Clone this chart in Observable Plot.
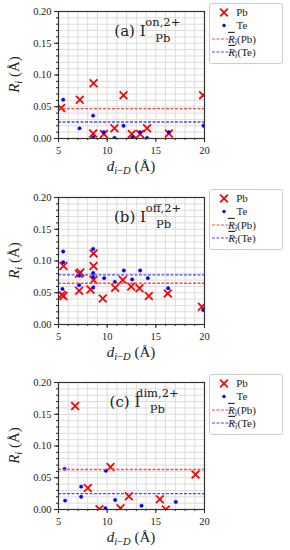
<!DOCTYPE html>
<html><head><meta charset="utf-8">
<script src="https://cdn.jsdelivr.net/npm/d3@7"></script>
<script src="https://cdn.jsdelivr.net/npm/@observablehq/plot@0.6"></script>
<style>body{margin:0;background:#fff;} svg{display:block}</style>
</head><body><div id="chart"></div>
<script>
// ---- tick values ----
const xTicks = [5, 10, 15, 20];
const xMinor = d3.range(5, 21);
const yTicks = [0, 0.05, 0.10, 0.15, 0.20];
const yMinor = d3.range(0, 21).map(i => i / 100);

// ---- panel (a) ----
const aPbX = [5.27, 7.19, 8.60, 8.56, 9.66, 10.75, 11.68, 12.53, 13.39, 14.10, 16.34, 19.85];
const aPbY = [0.048, 0.061, 0.087, 0.008, 0.007, 0.016, 0.068, 0.007, 0.007, 0.016, 0.008, 0.068];
const aTeX = [5.48, 7.16, 8.56, 8.56, 9.66, 10.75, 11.68, 12.60, 13.39, 14.10, 16.34, 19.90];
const aTeY = [0.061, 0.016, 0.036, 0.002, 0.010, 0.001, 0.020, 0.002, 0.010, 0.001, 0.010, 0.020];
const aPbMean = 0.047, aTeMean = 0.026;

// ---- panel (b) ----
const bPbX = [5.34, 5.51, 5.51, 7.12, 7.10, 7.25, 8.29, 8.60, 8.60, 8.60, 9.55, 10.82, 11.60, 12.47, 13.32, 14.28, 16.23, 19.73];
const bPbY = [0.047, 0.045, 0.092, 0.053, 0.080, 0.082, 0.055, 0.112, 0.092, 0.070, 0.041, 0.058, 0.070, 0.060, 0.057, 0.045, 0.049, 0.028];
const bTeX = [5.48, 5.48, 5.41, 7.12, 7.12, 8.56, 8.56, 8.56, 8.56, 9.69, 10.79, 11.71, 12.57, 13.39, 14.18, 16.27, 19.86];
const bTeY = [0.115, 0.098, 0.056, 0.062, 0.077, 0.119, 0.081, 0.075, 0.058, 0.073, 0.067, 0.085, 0.071, 0.085, 0.073, 0.057, 0.023];
const bPbMean = 0.065, bTeMean = 0.078;

// ---- panel (c) ----
const cPbX = [6.71, 8.01, 9.21, 10.34, 11.37, 12.23, 15.41, 16.03, 19.08];
const cPbY = [0.163, 0.034, 0.0005, 0.067, 0.002, 0.021, 0.016, 0.0, 0.055];
const cTeX = [5.62, 5.68, 7.33, 7.33, 9.86, 9.83, 10.82, 13.53, 17.05];
const cTeY = [0.064, 0.014, 0.036, 0.020, 0.061, 0.002, 0.015, 0.006, 0.012];
const cPbMean = 0.063, cTeMean = 0.025;

const panelIds = ["a", "b", "c"];
const panelSups = ["on,2+", "off,2+", "dim,2+"];
const legendLabels = ["Pb", "Te", "(Pb)", "(Te)"];

const pbColor = "#ff0000", teColor = "#0000ff";
const pbMeanColor = "#ff4a4a", teMeanColor = "#4a4aff";
const serif = "'Liberation Serif', 'DejaVu Serif', serif";
const titleSerif = "'DejaVu Serif', 'Liberation Serif', serif";

const panels = [
  {id: panelIds[0], sup: panelSups[0], pbX: aPbX, pbY: aPbY, teX: aTeX, teY: aTeY, pbMean: aPbMean, teMean: aTeMean, height: 185, mt: 11, tx: 130},
  {id: panelIds[1], sup: panelSups[1], pbX: bPbX, pbY: bPbY, teX: bTeX, teY: bTeY, pbMean: bPbMean, teMean: bTeMean, height: 185, mt: 12, tx: 130},
  {id: panelIds[2], sup: panelSups[2], pbX: cPbX, pbY: cPbY, teX: cTeX, teY: cTeY, pbMean: cPbMean, teMean: cTeMean, height: 180, mt: 12, tx: 125}
];

const plotH = 127;

function toRows(xs, ys) { return xs.map((x, i) => ({x, y: ys[i]})); }

function drawPanel(p) {
  const mb = p.height - p.mt - plotH;
  const pb = toRows(p.pbX, p.pbY);
  const te = toRows(p.teX, p.teY);
  const svg = Plot.plot({
    width: 290, height: p.height,
    marginLeft: 58, marginRight: 86, marginTop: p.mt, marginBottom: mb,
    style: {fontFamily: serif, fontSize: "10.5px", color: "#222", background: "#fff"},
    x: {domain: [5, 20]},
    y: {domain: [0, 0.2]},
    marks: [
      Plot.gridX(xMinor, {stroke: "#dcdcdc", strokeOpacity: 1}),
      Plot.gridY(yMinor, {stroke: "#dcdcdc", strokeOpacity: 1}),
      Plot.dot(pb, {x: "x", y: "y", symbol: "times", r: 3.6, stroke: pbColor, strokeWidth: 1.8, clip: true}),
      Plot.dot(te, {x: "x", y: "y", r: 1.7, fill: teColor, stroke: teColor, strokeWidth: 0.5, clip: true}),
      Plot.ruleY([p.pbMean], {stroke: pbMeanColor, strokeWidth: 1.3, strokeDasharray: "3,1.5"}),
      Plot.ruleY([p.teMean], {stroke: teMeanColor, strokeWidth: 1.3, strokeDasharray: "3,1.5"}),
      Plot.axisY(yMinor, {tickSize: 2, tickFormat: () => "", label: null}),
      Plot.axisY(yTicks, {tickSize: 4, tickPadding: 3, tickFormat: d3.format(".2f"), label: null}),
      Plot.axisX(xMinor, {tickSize: 2, tickFormat: () => "", label: null}),
      Plot.axisX(xTicks, {tickSize: 4, tickPadding: 4, label: null}),
      Plot.frame({stroke: "#333", strokeWidth: 1.2})
    ]
  });
  document.getElementById("chart").append(svg);

  const s = d3.select(svg);
  const top = p.mt, bottom = p.mt + plotH;
  const cx = (58 + 204) / 2, cy = (top + bottom) / 2;

  // y label
  const yl = s.append("text").attr("transform", `translate(19,${cy}) rotate(-90)`)
    .attr("text-anchor", "middle").attr("font-family", serif).attr("font-size", 15).attr("fill", "#222");
  yl.append("tspan").attr("font-style", "italic").text("R");
  yl.append("tspan").attr("font-style", "italic").attr("font-size", 10.5).attr("dy", 3).text("i");
  yl.append("tspan").attr("dy", -3).text(" (Å)");

  // x label
  const xl = s.append("text").attr("x", cx).attr("y", bottom + 33)
    .attr("text-anchor", "middle").attr("font-family", serif).attr("font-size", 15).attr("fill", "#222");
  xl.append("tspan").attr("font-style", "italic").text("d");
  xl.append("tspan").attr("font-style", "italic").attr("font-size", 10.5).attr("dy", 3).text("i");
  xl.append("tspan").attr("font-size", 10.5).text("−");
  xl.append("tspan").attr("font-style", "italic").attr("font-size", 10.5).text("D");
  xl.append("tspan").attr("dy", -3).text(" (Å)");

  // panel title: (x) I^{sup}_{Pb}
  const tb = top + 25;
  const mainT = s.append("text").attr("x", p.tx).attr("y", tb).attr("font-family", titleSerif)
    .attr("font-size", 15).attr("fill", "#222").text(`(${p.id}) I`);
  const mainW = mainT.node().getComputedTextLength();
  const supX = p.tx + mainW + 1.5;
  s.append("text").attr("x", supX).attr("y", tb - 10).attr("font-family", titleSerif)
    .attr("font-size", 11.5).attr("fill", "#222").text(p.sup);
  s.append("text").attr("x", supX).attr("y", tb + 6).attr("font-family", titleSerif)
    .attr("font-size", 11.5).attr("fill", "#222").text("Pb");

  // legend
  const lg = s.append("g").attr("font-family", serif).attr("font-size", 11).attr("fill", "#222");
  lg.append("rect").attr("x", 209.5).attr("y", top - 7.5).attr("width", 73).attr("height", 60).attr("rx", 2)
    .attr("fill", "#fff").attr("stroke", "#cccccc");
  const rows = [top + 1.5, top + 14.5, top + 28, top + 41];
  lg.append("path").attr("transform", `translate(224,${rows[0]})`).attr("d", d3.symbol(d3.symbolTimes, 40)())
    .attr("fill", "none").attr("stroke", pbColor).attr("stroke-width", 1.8);
  lg.append("circle").attr("cx", 224).attr("cy", rows[1]).attr("r", 1.7).attr("fill", teColor);
  lg.append("line").attr("x1", 212).attr("x2", 236).attr("y1", rows[2]).attr("y2", rows[2])
    .attr("stroke", pbMeanColor).attr("stroke-width", 1.2).attr("stroke-dasharray", "3,1.5");
  lg.append("line").attr("x1", 212).attr("x2", 236).attr("y1", rows[3]).attr("y2", rows[3])
    .attr("stroke", teMeanColor).attr("stroke-width", 1.2).attr("stroke-dasharray", "3,1.5");
  lg.append("text").attr("x", 242).attr("y", rows[0]).attr("dy", "0.35em").text(legendLabels[0]);
  lg.append("text").attr("x", 242).attr("y", rows[1]).attr("dy", "0.35em").text(legendLabels[1]);
  [2, 3].forEach(k => {
    const t = lg.append("text").attr("x", 242).attr("y", rows[k]).attr("dy", "0.35em");
    t.append("tspan").attr("font-style", "italic").attr("text-decoration", "overline").text("R");
    t.append("tspan").attr("font-style", "italic").attr("font-size", 8.5).attr("dy", 2.5).text("i");
    t.append("tspan").attr("dy", -2.5).text(legendLabels[k]);
  });
}

panels.forEach(drawPanel);
</script>
</body></html>
